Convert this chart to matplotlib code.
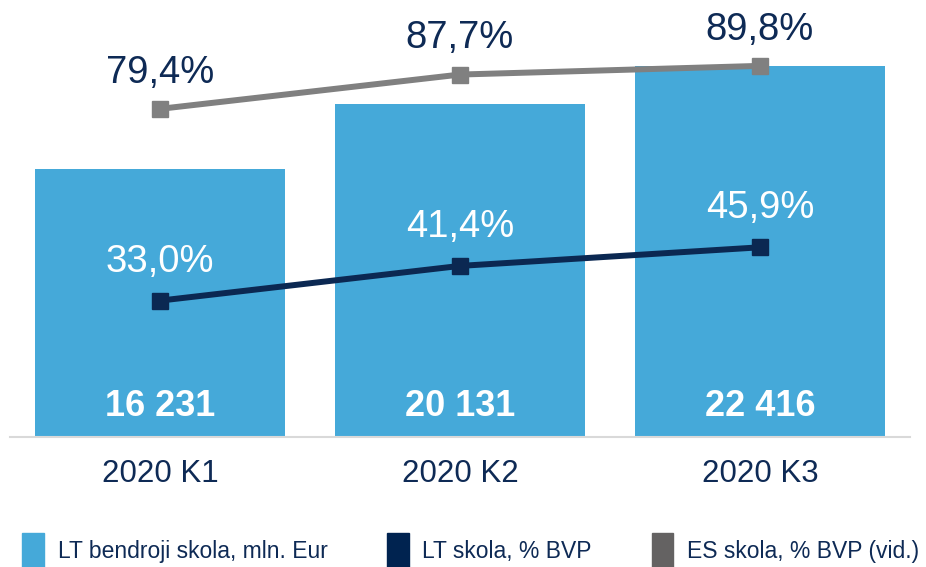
import matplotlib
matplotlib.use("Agg")
import matplotlib.pyplot as plt
from matplotlib.patches import Rectangle

plt.rcParams['font.family'] = ['Liberation Sans', 'DejaVu Sans']

quarters = ["2020 K1", "2020 K2", "2020 K3"]
lt_debt = [16231, 20131, 22416]          # mln. Eur
lt_debt_gdp = [33.0, 41.4, 45.9]         # % BVP
es_debt_gdp = [79.4, 87.7, 89.8]         # % BVP (vid.)
legend_labels = ["LT bendroji skola, mln. Eur", "LT skola, % BVP", "ES skola, % BVP (vid.)"]

bar_col = "#45a9d9"
navy = "#0b2852"
grey_line = "#808080"
grey_patch = "#646262"
text_navy = "#0e2a55"

fig = plt.figure(figsize=(9.26, 5.67), dpi=100)
ax = fig.add_axes([10 / 926, 130 / 567, 900 / 926, 417 / 567])
x = list(range(len(quarters)))

ax.bar(x, lt_debt, width=0.835, color=bar_col, zorder=2)
ax.set_xlim(-0.5, 2.5)
ax.set_ylim(0, 25212)
for xi, v in zip(x, lt_debt):
    ax.annotate(f"{v:,}".replace(",", " "), (xi, 0), xytext=(0, 22), textcoords="offset points",
                ha="center", va="center", color="white", fontsize=26, fontweight="bold", zorder=5)

ax2 = ax.twinx()
ax2.set_ylim(0, 100.9)
ax2.plot(x, lt_debt_gdp, color=navy, lw=4.3, marker="s", ms=11, zorder=3)
ax2.plot(x, es_debt_gdp, color=grey_line, lw=4.3, marker="s", ms=11, zorder=3)
for xi, v in zip(x, lt_debt_gdp):
    ax2.annotate(f"{v:.1f}%".replace(".", ","), (xi, v), xytext=(0, 28), textcoords="offset points",
                 ha="center", va="center", color="white", fontsize=27.5)
for xi, v in zip(x, es_debt_gdp):
    ax2.annotate(f"{v:.1f}%".replace(".", ","), (xi, v), xytext=(0, 26), textcoords="offset points",
                 ha="center", va="center", color=text_navy, fontsize=27.5)

for a in (ax, ax2):
    for s in ["top", "left", "right"]:
        a.spines[s].set_visible(False)
    a.set_yticks([])
ax2.spines["bottom"].set_visible(False)
ax.spines["bottom"].set_color("#d9d9d9")
ax.spines["bottom"].set_linewidth(1.5)
ax.set_xticks(x)
ax.set_xticklabels(quarters, fontsize=22.5, color=text_navy)
ax.tick_params(axis="x", length=0, pad=16)

handles = [Rectangle((0, 0), 1, 1, color=c) for c in (bar_col, "#002350", grey_patch)]
fig.legend(handles, legend_labels, loc="lower left", bbox_to_anchor=(22 / 926, -0.003), ncol=3,
           frameon=False, fontsize=16.5, handlelength=0.95, handleheight=2.0,
           handletextpad=0.6, columnspacing=2.6, borderpad=0, borderaxespad=0,
           labelcolor=text_navy)

fig.savefig("out.png", dpi=100)
